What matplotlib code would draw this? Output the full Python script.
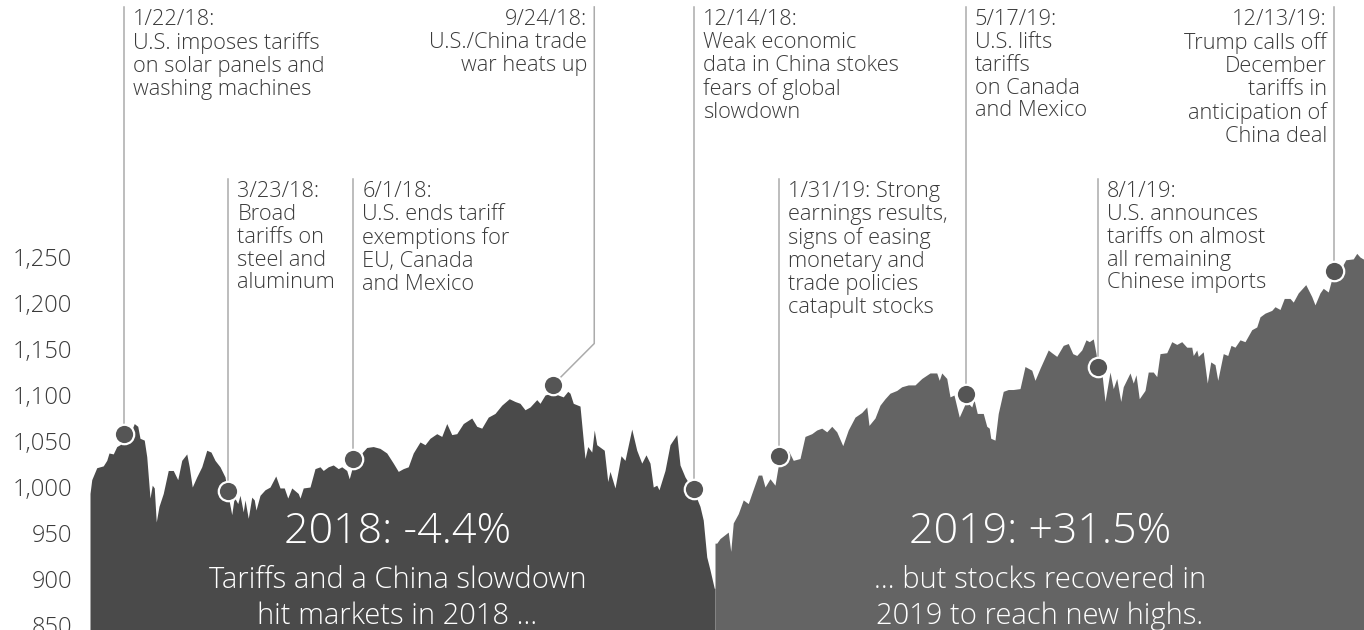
import matplotlib
matplotlib.use("Agg")
import matplotlib.pyplot as plt
from matplotlib.ticker import FuncFormatter
import matplotlib.transforms as mtransforms

# ---------------- data ----------------
# trading-day position (approx.) and index level, 2018
days_2018 = [0, 0.7, 2.7, 5.3, 6.7, 7.6, 9.3, 10.7, 12, 13.7, 16, 17.7, 19.1, 20, 21.7, 22.7, 24, 24.9,
             25.7, 26.5, 27.6, 29.3, 31.3, 33.3, 35.1, 36.7, 38.7, 39.7, 40.9, 42.7, 44.7, 46.7, 48.4,
             50, 52, 54, 55.3, 56.7, 57.7, 59.1, 60, 61.3, 62, 63.3, 64.7, 65.7, 66.4, 68, 70, 72,
             74.3, 76, 77.7, 79.1, 80.7, 83.3, 84, 85.3, 88, 90, 92, 93.3, 95.3, 97.3, 99.3, 100.7,
             102.7, 103.7, 105.3, 108.7, 110.7, 113.3, 116, 118.7, 121.3, 123.3, 125.3, 127.3, 129.3,
             132, 134, 136, 138.7, 140.7, 142.7, 144.7, 146.7, 149.3, 152.7, 154.7, 156.7, 159.3, 162,
             164.7, 167.7, 170, 172, 174, 176, 178.7, 180, 182, 185.3, 187.3, 189.3, 191.1, 192, 193.3,
             196, 198, 199.1, 200.7, 201.7, 202.7, 205.7, 207.1, 208, 210, 212.4, 214, 216.7, 218.7,
             220.7, 222.4, 224, 225.3, 226.7, 227.6, 230, 232, 234.7, 236, 238, 241.6, 244, 245.3,
             246.7, 248, 249.7, 250]
level_2018 = [993, 1008, 1021, 1023, 1029, 1037, 1036, 1044, 1046, 1052, 1057, 1069, 1066, 1053, 1051,
              1033, 988, 1002, 999, 962, 979, 993, 1018, 1018, 1008, 1029, 1036, 1022, 1000, 1011, 1022,
              1040, 1038, 1029, 1022, 1011, 990, 970, 989, 982, 991, 973, 986, 966, 989, 986, 975, 991,
              997, 1000, 1012, 999, 999, 988, 999, 993, 988, 999, 1000, 1020, 1022, 1018, 1022, 1024,
              1020, 1022, 1018, 1009, 1025, 1037, 1043, 1044, 1042, 1037, 1026, 1017, 1020, 1022, 1037,
              1049, 1046, 1053, 1058, 1055, 1069, 1057, 1058, 1069, 1075, 1066, 1064, 1076, 1080, 1089,
              1096, 1093, 1091, 1084, 1087, 1095, 1091, 1100, 1103, 1100, 1098, 1104, 1102, 1091, 1088,
              1031, 1044, 1038, 1062, 1046, 1040, 1006, 1017, 999, 1034, 1029, 1063, 1040, 1026, 1035,
              1026, 1000, 1002, 997, 1018, 1046, 1057, 1024, 1011, 995, 979, 964, 924, 910, 890, 890]

days_2019 = [250, 250.7, 252, 255.3, 256.3, 257.3, 259.3, 261.3, 263.3, 264.7, 267.3, 268.7, 270, 272,
             274, 275.6, 277.3, 279.3, 281.3, 284, 286, 288.7, 290.7, 292.7, 294.7, 296.7, 298.7, 301.1,
             303.3, 306, 308.7, 310.7, 311.6, 314, 316, 318, 320, 322.7, 324.7, 327.3, 330, 332.7, 336,
             338.7, 339.7, 340.7, 342.7, 344, 345.6, 347.7, 350.3, 351.3, 352.7, 353.6, 354.9, 357.3,
             358.7, 359.7, 360.3, 362, 363.3, 365.3, 367.3, 369.3, 372, 374, 376.7, 378, 380, 383.3,
             384.7, 386.7, 389.3, 391.3, 393.1, 394.7, 396.7, 398.4, 399.7, 401.3, 402.4, 403.3, 404.7,
             406, 408, 409.3, 410.7, 412.3, 413.3, 416, 417.3, 418.4, 419.7, 422, 423.3, 425.3, 426.7,
             428, 430.7, 432.7, 434.7, 436.7, 438.7, 440.7, 441.3, 442.7, 443.3, 445.3, 446.9, 448.3,
             450, 451.1, 453.3, 455.1, 456.4, 458, 460, 462, 464.7, 466.7, 468, 470, 472.7, 474, 476,
             477.7, 480, 481.3, 483.3, 486.3, 488.7, 490, 492, 493.3, 495.3, 496.4, 497.6, 499.3, 500.7,
             502.3, 505.3, 506.7, 508, 509.2, 509.6]
level_2019 = [939, 939, 944, 951, 930, 961, 971, 986, 982, 993, 1013, 1013, 1000, 1009, 1002, 1028, 1029,
              1040, 1029, 1031, 1055, 1058, 1062, 1064, 1060, 1066, 1060, 1045, 1062, 1076, 1081, 1087,
              1067, 1075, 1089, 1096, 1102, 1105, 1109, 1111, 1111, 1118, 1124, 1124, 1116, 1124, 1118,
              1098, 1100, 1076, 1092, 1091, 1087, 1095, 1080, 1080, 1066, 1064, 1053, 1051, 1080, 1104,
              1106, 1106, 1107, 1131, 1127, 1116, 1129, 1149, 1146, 1142, 1154, 1156, 1145, 1143, 1149,
              1160, 1158, 1161, 1145, 1128, 1125, 1093, 1125, 1107, 1118, 1093, 1109, 1124, 1113, 1122,
              1096, 1105, 1125, 1125, 1120, 1145, 1146, 1158, 1155, 1158, 1152, 1152, 1143, 1149, 1142,
              1147, 1113, 1136, 1133, 1116, 1145, 1143, 1154, 1152, 1160, 1158, 1171, 1174, 1185, 1189,
              1192, 1196, 1193, 1205, 1205, 1201, 1211, 1220, 1207, 1198, 1211, 1216, 1212, 1223, 1230,
              1234, 1239, 1247, 1248, 1254, 1250, 1248, 1248]

event_days = [13.7, 55.3, 105.3, 185.2, 241.6, 275.6, 350.3, 403.3, 497.6]
event_levels = [1058, 996, 1031, 1111, 998, 1034, 1101, 1131, 1235]
event_texts = [
    "1/22/18:\nU.S. imposes tariffs\non solar panels and\nwashing machines",
    "3/23/18:\nBroad\ntariffs on\nsteel and\naluminum",
    "6/1/18:\nU.S. ends tariff\nexemptions for\nEU, Canada\nand Mexico",
    "9/24/18:\nU.S./China trade\nwar heats up",
    "12/14/18:\nWeak economic\ndata in China stokes\nfears of global\nslowdown",
    "1/31/19: Strong\nearnings results,\nsigns of easing\nmonetary and\ntrade policies\ncatapult stocks",
    "5/17/19:\nU.S. lifts\ntariffs\non Canada\nand Mexico",
    "8/1/19:\nU.S. announces\ntariffs on almost\nall remaining\nChinese imports",
    "12/13/19:\nTrump calls off\nDecember\ntariffs in\nanticipation of\nChina deal",
]
# layout: row (0 = top row, 1 = lower row), side of text relative to leader line
event_row = [0, 1, 1, 0, 0, 1, 0, 1, 0]
event_side = ["right", "right", "right", "left", "right", "right", "right", "right", "left"]

yticks = [850, 900, 950, 1000, 1050, 1100, 1150, 1200, 1250]

year_titles = ["2018: -4.4%", "2019: +31.5%"]
year_subtitles = ["Tariffs and a China slowdown\nhit markets in 2018 ...",
                  "... but stocks recovered in\n2019 to reach new highs."]

# ---------------- style ----------------
C18 = "#4a4a4a"
C19 = "#646464"
TXT = "#3a3a3a"
LEAD = "#ababab"
FONT = ["Open Sans", "DejaVu Sans"]

W, H, DPI = 1364, 630, 100
fig = plt.figure(figsize=(W / DPI, H / DPI), dpi=DPI)
ax = fig.add_axes([90 / W, 0, 1 - 90 / W, 1])
ax.set_xlim(0, 509.6)
ax.set_ylim(844.6, 1529.4)
for s in ax.spines.values():
    s.set_visible(False)
ax.set_xticks([])
ax.set_yticks(yticks)
ax.yaxis.set_major_formatter(FuncFormatter(lambda v, p: f"{int(v):,}"))
ax.tick_params(axis="y", length=0, pad=13, labelsize=17, labelcolor=TXT)
for lab in ax.get_yticklabels():
    lab.set_family(FONT)
    lab.set_fontweight("light")

base = 700
ax.fill_between(days_2018, level_2018, base, color=C18, lw=0, zorder=2)
ax.fill_between(days_2019, level_2019, base, color=C19, lw=0, zorder=2)

# leader lines, markers and texts
row_top = {0: 0.986, 1: 0.713}   # axes fraction of first text line top
for d, lv, txt, row, side in zip(event_days, event_levels, event_texts, event_row, event_side):
    ytop = ax.transAxes.transform((0, row_top[row] + 0.003))[1]
    ytop_data = ax.transData.inverted().transform((0, ytop))[1]
    if side == "left" and d < 250:
        # bent leader: vertical from top, then diagonal to marker
        xv, ybend = 201.7, 1156
        ax.plot([xv, xv, d], [ytop_data, ybend, lv], color=LEAD, lw=1.1, zorder=3)
        xt = xv
    else:
        ax.plot([d, d], [ytop_data, lv], color=LEAD, lw=1.1, zorder=3)
        xt = d
    off = 9 if side == "right" else -7
    ha = "left" if side == "right" else "right"
    tr = mtransforms.offset_copy(mtransforms.blended_transform_factory(ax.transData, ax.transAxes),
                                 fig=fig, x=off, y=0, units="dots")
    ax.text(xt, row_top[row], txt, transform=tr, ha=ha, va="top", fontsize=15.7, color=TXT,
            family=FONT, fontweight="light", linespacing=1.12, multialignment=ha, zorder=4)
    ax.plot([d], [lv], marker="o", ms=14, mfc="#555555", mec="white", mew=1.6, zorder=5)

# year summary texts
year_centers = [123, 380]
btr = mtransforms.blended_transform_factory(ax.transData, ax.transAxes)
for xc, t, st in zip(year_centers, year_titles, year_subtitles):
    ax.text(xc, 0.1556, t, transform=btr, ha="center", va="center", fontsize=31, color="white",
            family=FONT, fontweight="light", zorder=6)
    ax.text(xc, 0.050, st, transform=btr, ha="center", va="center", fontsize=21, color="white",
            family=FONT, fontweight="light", linespacing=1.27, zorder=6)

fig.savefig("out.png", dpi=DPI)
